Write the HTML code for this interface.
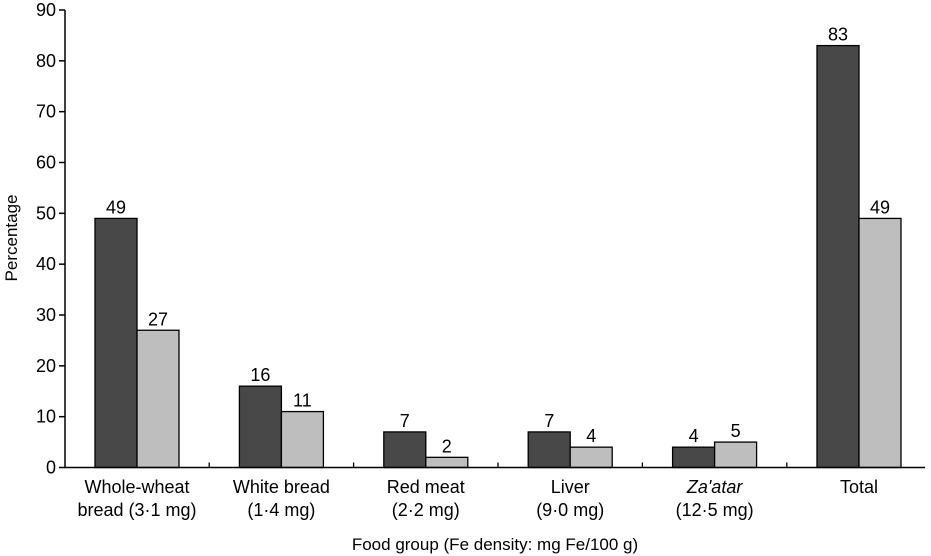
<!DOCTYPE html>
<html><head><meta charset="utf-8"><style>
body{margin:0;background:#fff;}
svg{display:block;font-family:"Liberation Sans",Arial,sans-serif;}
</style></head><body>
<svg id="chart" width="931" height="556"></svg>
<script>
const categories=[["Whole-wheat","bread (3·1 mg)"],["White bread","(1·4 mg)"],["Red meat","(2·2 mg)"],["Liver","(9·0 mg)"],["Za'atar","(12·5 mg)"],["Total",""]];
const series1=[49,16,7,7,4,83];
const series2=[27,11,2,4,5,49];
const yTicks=[0,10,20,30,40,50,60,70,80,90];
const svg=document.getElementById('chart');
const NS='http://www.w3.org/2000/svg';
const x0=65,x1=925,yb=467.5,yMax=90,yTop=10;
const y=v=>yb-(yb-yTop)*v/yMax;
const bw=144.4, c0=137;
function mk(t,a,p){const e=document.createElementNS(NS,t);for(const k in a)e.setAttribute(k,a[k]);(p||svg).appendChild(e);return e;}
yTicks.forEach(t=>{
  const g=mk('g',{});
  
  
  mk('line',{x1:x0-6,x2:x0,y1:y(t),y2:y(t),stroke:'#000','stroke-width':1.5},g);
  const tx=mk('text',{x:x0-9,y:y(t)+6,'text-anchor':'end','font-size':18},g);tx.textContent=t;
});
categories.forEach((c,i)=>{
  const cx=c0+bw*i;
  const w=42;
  [[series1[i],'#484848',cx-w],[series2[i],'#bebebe',cx]].forEach((s,j)=>{
    const r=mk('rect',{x:s[2],y:y(s[0]),width:w,height:yb-y(s[0]),fill:s[1],stroke:'#000','stroke-width':1.3});
    
    
    const l=mk('text',{x:s[2]+w/2,y:y(s[0])-5,'text-anchor':'middle','font-size':18});
    l.textContent=s[0];
    
    
  });
  if(i>0){const tk=mk('line',{x1:cx-bw/2,x2:cx-bw/2,y1:yb,y2:yb-5,stroke:'#000','stroke-width':1.3});
    
    }
  const t1=mk('text',{x:cx,y:493,'text-anchor':'middle','font-size':18});
  t1.textContent=c[0];if(i==4)t1.setAttribute('font-style','italic');
  
  
  const t2=mk('text',{x:cx,y:516,'text-anchor':'middle','font-size':18});t2.textContent=c[1];
  
  
});
const ax=mk('path',{d:`M${x0} ${yTop}V${yb}H${x1}`,fill:'none',stroke:'#000','stroke-width':1.5});


const xt=mk('text',{x:495,y:550,'text-anchor':'middle','font-size':17});xt.textContent='Food group (Fe density: mg Fe/100 g)';


const yt=mk('text',{x:0,y:0,'text-anchor':'middle','font-size':17,transform:'translate(17,238) rotate(-90)'});yt.textContent='Percentage';


</script>
</body></html>
